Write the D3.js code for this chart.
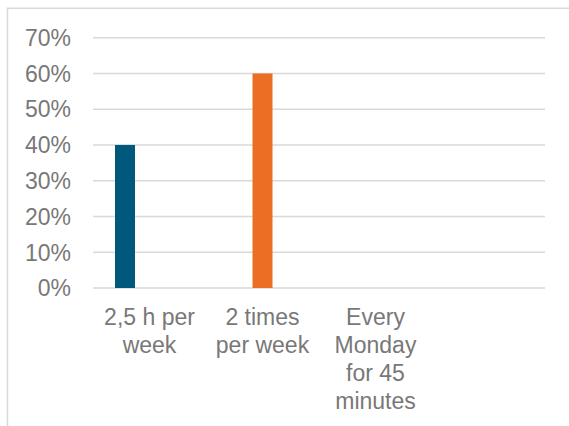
<!DOCTYPE html>
<html>
<head>
<meta charset="utf-8">
<script src="https://cdn.jsdelivr.net/npm/d3@7"></script>
<style>
  body { margin: 0; background: #fff; }
  svg { display: block; font-family: "Liberation Sans", Arial, sans-serif; }
</style>
</head>
<body>
<svg class="chart" width="569" height="426"></svg>
<script>
// data
var categories = ["2,5 h per week", "2 times per week", "Every Monday for 45 minutes", ""];
var seriesNames = ["s1", "s2", "s3"];
var s1Values = [0.40, 0, 0, 0];
var s2Values = [0, 0.60, 0, 0];
var s3Values = [0, 0, 0, 0];
var seriesColors = ["#01587d", "#ec6e23", "#a5a5a5"];
var yTicks = [0, 0.1, 0.2, 0.3, 0.4, 0.5, 0.6, 0.7];

var allSeries = [s1Values, s2Values, s3Values];

var svg = d3.select("svg.chart");
var textColor = "#787878",
    gridColor = "#d9d9d9",
    fontSize = 23;

// chart area border (runs off the right and bottom edge)
svg.append("rect")
    .attr("x", 7.5).attr("y", 8.25)
    .attr("width", 700).attr("height", 600)
    .attr("fill", "none")
    .attr("stroke", gridColor)
    .attr("stroke-width", 1.5);

var x0 = d3.scaleBand()
    .domain(categories.map(function(d, i){ return i; }))
    .range([93, 545])
    .padding(0);

// series offsets inside a category: step 24.5, bars 20 wide
var x1 = d3.scaleBand()
    .domain(seriesNames)
    .range([-34.5, 34.5])
    .paddingInner(4.5 / 24.5)
    .paddingOuter(0);

var y = d3.scaleLinear().domain([0, 0.7]).range([288, 37.7]);

// gridlines
svg.append("g").attr("class", "grid")
    .selectAll("line")
    .data(yTicks)
    .enter().append("line")
    .attr("x1", x0.range()[0])
    .attr("x2", x0.range()[1])
    .attr("y1", function(d){ return y(d); })
    .attr("y2", function(d){ return y(d); })
    .attr("stroke", gridColor)
    .attr("stroke-width", 1.5);

// y tick labels
svg.append("g").attr("class", "ylabels")
    .selectAll("text")
    .data(yTicks)
    .enter().append("text")
    .attr("x", 71)
    .attr("y", function(d){ return y(d); })
    .attr("dy", "0.36em")
    .attr("text-anchor", "end")
    .attr("fill", textColor)
    .attr("font-size", fontSize)
    .text(d3.format(".0%"));

// bars
var groups = svg.append("g").attr("class", "bars")
    .selectAll("g")
    .data(allSeries)
    .enter().append("g")
    .attr("fill", function(d, i){ return seriesColors[i]; });

groups.selectAll("rect")
    .data(function(vals, si){
        return vals.map(function(v, ci){ return {series: seriesNames[si], cat: ci, value: v}; });
    })
    .enter().append("rect")
    .filter(function(d){ return d.value > 0; })
    .attr("x", function(d){ return x0(d.cat) + x0.bandwidth() / 2 + x1(d.series); })
    .attr("width", x1.bandwidth())
    .attr("y", function(d){ return y(d.value); })
    .attr("height", function(d){ return y(0) - y(d.value); });

// category labels, wrapped like the original
var catLabels = svg.append("g").attr("class", "xlabels")
    .selectAll("text")
    .data(categories)
    .enter().append("text")
    .attr("x", function(d, i){ return x0(i) + x0.bandwidth() / 2; })
    .attr("y", 325)
    .attr("text-anchor", "middle")
    .attr("fill", textColor)
    .attr("font-size", fontSize);

catLabels.each(function(d){
    var text = d3.select(this),
        words = d.split(" "),
        maxWidth = 105,
        lineHeight = 28,
        line = [],
        lineNo = 0,
        cx = text.attr("x");
    var tspan = text.append("tspan").attr("x", cx).attr("y", 325);
    words.forEach(function(w){
        line.push(w);
        tspan.text(line.join(" "));
        if(tspan.node().getComputedTextLength() > maxWidth && line.length > 1){
            line.pop();
            tspan.text(line.join(" "));
            line = [w];
            lineNo += 1;
            tspan = text.append("tspan").attr("x", cx).attr("y", 325 + lineNo * lineHeight).text(w);
        }
    });
});
</script>
</body>
</html>
